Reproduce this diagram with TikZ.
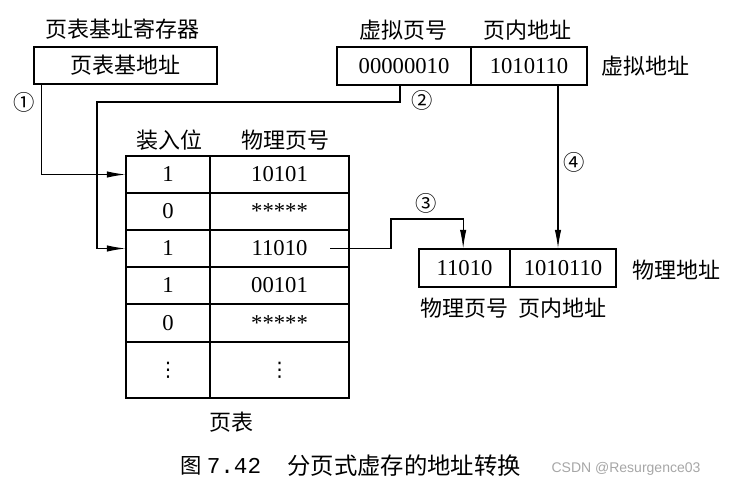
\documentclass[tikz,border=0pt]{standalone}
\usepackage{fontspec}
\setmainfont{Liberation Serif}
\newfontfamily\cjk{Noto Sans CJK SC}
\newfontfamily\monof{Liberation Mono}
\newfontfamily\sansf{Liberation Sans}
\newfontfamily\dejavu{DejaVu Sans}
\usetikzlibrary{arrows.meta}
\begin{document}
\begin{tikzpicture}[x=0.75pt,y=-0.75pt,
  every node/.style={inner sep=0pt},
  box/.style={draw,line width=0.8pt,minimum height=27.75pt},
  num/.style={font=\fontsize{17}{20}\selectfont},
  zh/.style={font=\cjk\fontsize{16.5}{20}\selectfont},
  circ/.style={font=\cjk\fontsize{16}{20}\selectfont},
  conn/.style={line width=0.8pt},
  arr/.style={conn,-{Latex[length=14pt,width=4.8pt]}}]
\useasboundingbox (0,0) rectangle (741,491);

% page table base register
\node[zh] (baselbl) at (122,29) {页表基址寄存器};
\node[box,zh,minimum width=137.25pt] (base) at (125.5,65.5) {页表基地址};

% virtual address
\node[zh] (vpnlbl) at (403,30) {虚拟页号};
\node[zh] (offlbl) at (527,30) {页内地址};
\node[box,num,minimum width=100.5pt,minimum height=28.5pt] (v1) at (404,66) {00000010};
\node[box,num,minimum width=87pt,minimum height=28.5pt] (v2) at (529,66) {1010110};
\node[zh] (vaddr) at (645,66) {虚拟地址};

% page table
\node[zh] (hA) at (169,140) {装入位};
\node[zh] (hB) at (285,140) {物理页号};
\tikzset{ca/.style={box,num,minimum width=63pt},
         cb/.style={box,num,minimum width=104.25pt}}
\node[ca] (r1a) at (168,174.5) {1};
\node[cb] (r1b) at (279.5,174.5) {10101};
\node[ca] (r2a) at (168,211.5) {0};
\node[cb] (r2b) at (279.5,211.5) {\raisebox{-4pt}{*****}};
\node[ca] (r3a) at (168,248.5) {1};
\node[cb] (r3b) at (279.5,248.5) {11010};
\node[ca] (r4a) at (168,285.5) {1};
\node[cb] (r4b) at (279.5,285.5) {00101};
\node[ca] (r5a) at (168,323) {0};
\node[cb] (r5b) at (279.5,323) {\raisebox{-4pt}{*****}};
\node[ca,minimum height=42pt,font=\dejavu\fontsize{15}{18}\selectfont] (r6a) at (168,370) {⋮};
\node[cb,minimum height=42pt,font=\dejavu\fontsize{15}{18}\selectfont] (r6b) at (279.5,370) {⋮};
\node[zh] (ptlbl) at (231,422) {页表};

% physical address
\node[box,num,minimum width=68.25pt,minimum height=28.5pt] (p1) at (464.5,268) {11010};
\node[box,num,minimum width=79.5pt,minimum height=28.5pt] (p2) at (563,268) {1010110};
\node[zh] (paddr) at (676,270) {物理地址};
\node[zh] (ppnlbl) at (464,308) {物理页号};
\node[zh] (poflbl) at (562,308) {页内地址};

% step labels
\node[circ] (s1) at (24,102) {①};
\node[circ] (s2) at (422,100) {②};
\node[circ] (s3) at (426,203) {③};
\node[circ] (s4) at (574,162) {④};

% connectors
\coordinate (k2) at (97,102);
\coordinate (k3s) at (330,248.5);
\coordinate (k3m) at (391,219);
\coordinate (k4) at (558,160);
\draw[arr] ([xshift=6pt]base.south west) |- (r1a.west);
\draw[arr] ([xshift=-3pt]v1.south) |- (k2) |- (r3a.west);
\draw[arr] (k3s) -| (k3m) -| ([xshift=-1pt]p1.north);
\draw[arr] (v2.south -| k4) -- (p2.north -| k4);

% caption
\node[zh,font=\cjk\fontsize{16}{20}\selectfont] (capA) at (191,466) {图};
\node[font=\monof\fontsize{17}{20}\selectfont] (capB) at (234,466) {7.42};
\node[zh,font=\cjk\fontsize{17.5}{20}\selectfont] (capC) at (404,466) {分页式虚存的地址转换};
\node[font=\sansf\fontsize{10.5}{12}\selectfont,text=black!35] (wm) at (626,469) {CSDN @Resurgence03};
\end{tikzpicture}
\end{document}
